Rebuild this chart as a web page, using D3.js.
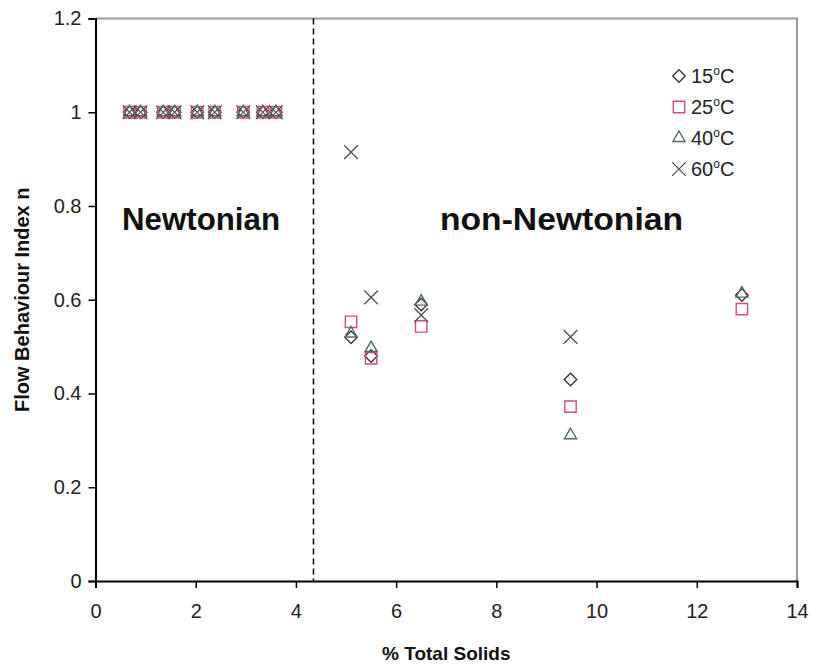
<!DOCTYPE html>
<html>
<head>
<meta charset="utf-8">
<script src="https://cdn.jsdelivr.net/npm/d3@7"></script>
<style>
  html, body { margin: 0; padding: 0; background: #fff; }
  svg { display: block; font-family: "Liberation Sans", Arial, sans-serif; }
</style>
</head>
<body>
<svg id="chart" width="816" height="666"></svg>
<script>
// Flow behaviour index n against % total solids, four temperatures
const newtonianSolids = [0.68, 0.9, 1.35, 1.58, 2.03, 2.38, 2.95, 3.34, 3.6];

const solids15 = [...newtonianSolids, 5.1, 5.5, 6.5, 9.48, 12.9];
const n15      = [1, 1, 1, 1, 1, 1, 1, 1, 1, 0.52, 0.48, 0.59, 0.43, 0.61];

const solids25 = [...newtonianSolids, 5.1, 5.5, 6.5, 9.48, 12.9];
const n25      = [1, 1, 1, 1, 1, 1, 1, 1, 1, 0.553, 0.475, 0.543, 0.372, 0.58];

const solids40 = [...newtonianSolids, 5.1, 5.5, 6.5, 9.48, 12.9];
const n40      = [1, 1, 1, 1, 1, 1, 1, 1, 1, 0.528, 0.497, 0.596, 0.311, 0.613];

const solids60 = [...newtonianSolids, 5.1, 5.5, 6.5, 9.48];
const n60      = [1, 1, 1, 1, 1, 1, 1, 1, 1, 0.915, 0.605, 0.567, 0.521];

const seriesLabels = ["15", "25", "40", "60"];
const xTicks = [0, 2, 4, 6, 8, 10, 12, 14];
const yTicks = [0, 0.2, 0.4, 0.6, 0.8, 1, 1.2];
const boundarySolids = 4.35;

const series = [
  { label: seriesLabels[0], xs: solids15, ys: n15, type: d3.symbolDiamond2,  size: 100, color: "#3a3a3a" },
  { label: seriesLabels[1], xs: solids25, ys: n25, type: d3.symbolSquare2,   size: 165, color: "#d8487c" },
  { label: seriesLabels[2], xs: solids40, ys: n40, type: d3.symbolTriangle2, size: 105, color: "#4d6b62" },
  { label: seriesLabels[3], xs: solids60, ys: n60, type: d3.symbolTimes,     size: 125, color: "#555555" }
];

const svg = d3.select("#chart");
const plotL = 95.5, plotR = 797, plotT = 18.5, plotB = 581;

const x = d3.scaleLinear().domain([0, 14]).range([plotL, plotR]);
const y = d3.scaleLinear().domain([0, 1.2]).range([plotB, plotT]);

// frame: top and right edges in grey
svg.append("path")
  .attr("d", `M${plotL},${plotT}H${plotR}V${plotB}`)
  .attr("fill", "none").attr("stroke", "#9a9a9a").attr("stroke-width", 2);

// axes
const xAxis = svg.append("g")
  .attr("transform", `translate(0,${plotB})`)
  .call(d3.axisBottom(x).tickValues(xTicks).tickFormat(d3.format("d")).tickSize(7).tickPadding(16));
const yAxis = svg.append("g")
  .attr("transform", `translate(${plotL},0)`)
  .call(d3.axisLeft(y).tickValues(yTicks).tickFormat(d => d3.format("~g")(d)).tickSize(7).tickPadding(7));

[xAxis, yAxis].forEach(g => {
  g.select(".domain").attr("stroke", "#000").attr("stroke-width", 2);
  g.selectAll(".tick line").attr("stroke", "#000").attr("stroke-width", 1.5);
  g.selectAll(".tick text")
    .attr("font-family", "Liberation Sans, Arial, sans-serif")
    .attr("font-size", 20).attr("fill", "#222");
});

// Newtonian / non-Newtonian boundary
svg.append("line")
  .attr("x1", x(boundarySolids)).attr("x2", x(boundarySolids))
  .attr("y1", y(1.2)).attr("y2", y(0))
  .attr("stroke", "#000").attr("stroke-width", 1.5).attr("stroke-dasharray", "6,4");

svg.append("text").attr("x", 122).attr("y", 230)
  .attr("font-size", 32).attr("font-weight", "bold").attr("fill", "#111")
  .attr("textLength", 158).attr("lengthAdjust", "spacingAndGlyphs")
  .text("Newtonian");
svg.append("text").attr("x", 440).attr("y", 230)
  .attr("font-size", 32).attr("font-weight", "bold").attr("fill", "#111")
  .attr("textLength", 243).attr("lengthAdjust", "spacingAndGlyphs")
  .text("non-Newtonian");

// data markers
series.forEach(s => {
  const sym = d3.symbol().type(s.type).size(s.size);
  svg.append("g").selectAll("path")
    .data(s.xs.map((v, i) => [v, s.ys[i]]))
    .join("path")
    .attr("transform", d => `translate(${x(d[0])},${y(d[1])})`)
    .attr("d", sym)
    .attr("fill", "none")
    .attr("stroke", s.color)
    .attr("stroke-width", 1.4);
});

// legend
const legend = svg.append("g").attr("transform", "translate(679,76)");
series.forEach((s, i) => {
  const row = legend.append("g").attr("transform", `translate(0,${i * 31})`);
  row.append("path")
    .attr("d", d3.symbol().type(s.type).size(s.size)())
    .attr("fill", "none").attr("stroke", s.color).attr("stroke-width", 1.4);
  const t = row.append("text").attr("x", 12).attr("y", 7)
    .attr("font-size", 20).attr("fill", "#222");
  t.append("tspan").text(s.label);
  t.append("tspan").attr("font-size", 12).attr("dy", -8).text("o");
  t.append("tspan").attr("dy", 8).text("C");
});

// axis titles
svg.append("text")
  .attr("x", (plotL + plotR) / 2).attr("y", 660)
  .attr("text-anchor", "middle").attr("font-size", 19).attr("font-weight", "bold").attr("fill", "#111")
  .text("% Total Solids");
svg.append("text")
  .attr("transform", `translate(29,${(plotT + plotB) / 2}) rotate(-90)`)
  .attr("text-anchor", "middle").attr("font-size", 20).attr("font-weight", "bold").attr("fill", "#111")
  .text("Flow Behaviour Index n");
</script>
</body>
</html>
